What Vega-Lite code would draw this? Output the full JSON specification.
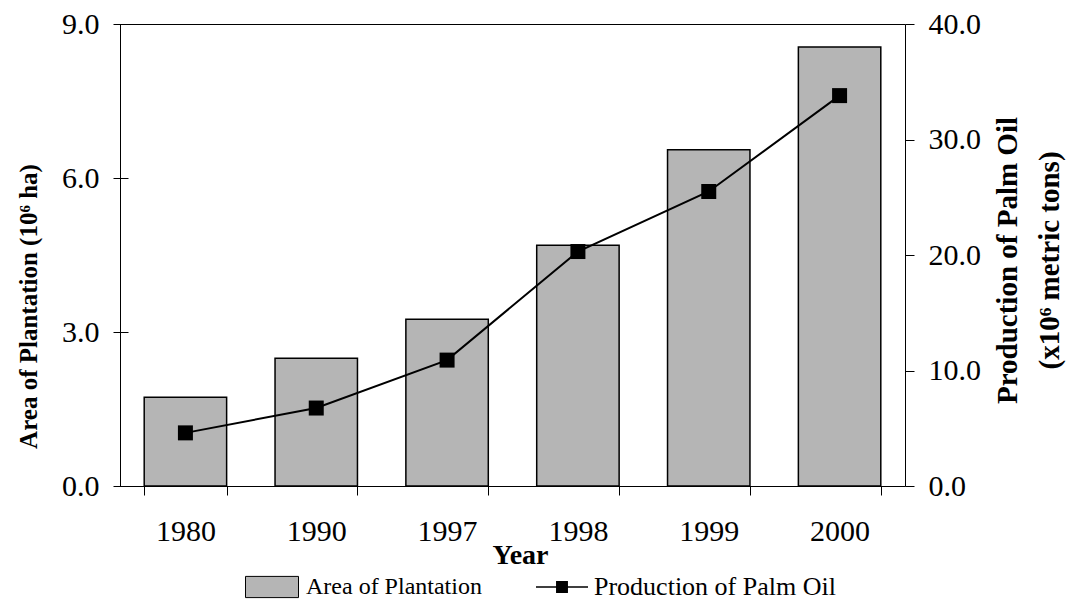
{
  "$schema": "https://vega.github.io/schema/vega-lite/v6.json",
  "width": 785,
  "height": 462,
  "autosize": {"type": "none"},
  "padding": {"left": 120, "top": 24, "right": 165, "bottom": 115},
  "background": "white",
  "config": {
    "view": {"stroke": "black", "strokeWidth": 1},
    "font": "Liberation Serif",
    "axis": {"labelFont": "Liberation Serif", "titleFont": "Liberation Serif", "labelColor": "black", "titleColor": "black", "tickColor": "black", "domainColor": "black", "grid": false, "tickWidth": 1},
    "legend": {"labelFont": "Liberation Serif", "labelColor": "black", "labelFontSize": 24, "padding": 0, "titleFont": "Liberation Serif", "labelLimit": 0}
  },
  "data": {
    "values": [
      {"Year": 1980, "Area": 1.73, "Production": 4.6},
      {"Year": 1990, "Area": 2.49, "Production": 6.75},
      {"Year": 1997, "Area": 3.25, "Production": 10.9},
      {"Year": 1998, "Area": 4.69, "Production": 20.3},
      {"Year": 1999, "Area": 6.55, "Production": 25.5},
      {"Year": 2000, "Area": 8.55, "Production": 33.8}
    ]
  },
  "layer": [
    {
      "mark": {"type": "bar", "stroke": "black", "strokeWidth": 1.5},
      "encoding": {
        "x": {
          "field": "Year", "type": "ordinal",
          "scale": {"paddingInner": 0.37, "paddingOuter": 0.185},
          "axis": {"title": "Year", "labelAngle": 0, "labelFontSize": 30, "labelBaseline": "alphabetic", "labelPadding": 45, "tickSize": 9, "tickBand": "extent", "domain": false, "titleFontSize": 28, "titleFontWeight": "bold", "titleX": 400, "titleY": 77, "titleBaseline": "alphabetic", "titleAlign": "center"}
        },
        "y": {
          "field": "Area", "type": "quantitative",
          "scale": {"domain": [0, 9], "nice": false},
          "axis": {"orient": "left", "values": [0, 3, 6, 9], "format": ".1f", "offset": -8, "tickSize": 15, "labelPadding": 14, "domain": false, "labelFontSize": 30, "title": "Area of Plantation (10⁶ ha)", "titleFontSize": 25, "titleFontWeight": "bold", "titleAngle": -90, "titleX": -100, "titleY": 282, "titleBaseline": "middle", "titleAlign": "center"}
        },
        "fill": {
          "datum": "Area of Plantation", "type": "nominal",
          "scale": {"range": ["#b5b5b5"]},
          "legend": {"orient": "none", "legendX": 125, "legendY": 536, "title": null, "symbolType": "M-1,-0.4H1V0.4H-1Z", "symbolSize": 2809, "symbolStrokeColor": "black", "symbolStrokeWidth": 1, "symbolOpacity": 1, "labelOffset": 7, "labelFontSize": 24, "labelLimit": 0}
        }
      }
    },
    {
      "layer": [
        {
          "mark": {"type": "line", "strokeWidth": 2},
          "encoding": {
            "x": {"field": "Year", "type": "ordinal"},
            "y": {
              "field": "Production", "type": "quantitative",
              "scale": {"domain": [0, 40], "nice": false},
              "axis": {"orient": "right", "values": [0, 10, 20, 30, 40], "format": ".1f", "tickSize": 9, "labelPadding": 14, "domain": false, "labelFontSize": 30, "title": ["Production of Palm Oil", "(x10⁶ metric tons)"], "titleFontSize": 29, "titleFontWeight": "bold", "titleAngle": -90, "titleX": 102, "titleY": 236, "titleBaseline": "middle", "titleAlign": "center", "titleLineHeight": 42}
            },
            "stroke": {
              "datum": "Production of Palm Oil", "type": "nominal",
              "scale": {"range": ["black"]},
              "legend": {"orient": "none", "legendX": 415, "legendY": 536, "title": null, "symbolType": "M-1,0H1M-0.2,-0.2H0.2V0.2H-0.2Z", "symbolSize": 2704, "symbolFillColor": "black", "symbolStrokeWidth": 1.5, "symbolOpacity": 1, "labelOffset": 5, "labelFontSize": 26, "labelLimit": 0}
            }
          }
        },
        {
          "mark": {"type": "point", "shape": "square", "size": 225, "filled": true, "color": "black", "opacity": 1},
          "encoding": {
            "x": {"field": "Year", "type": "ordinal"},
            "y": {"field": "Production", "type": "quantitative"}
          }
        }
      ]
    }
  ],
  "resolve": {"scale": {"y": "independent"}}
}
